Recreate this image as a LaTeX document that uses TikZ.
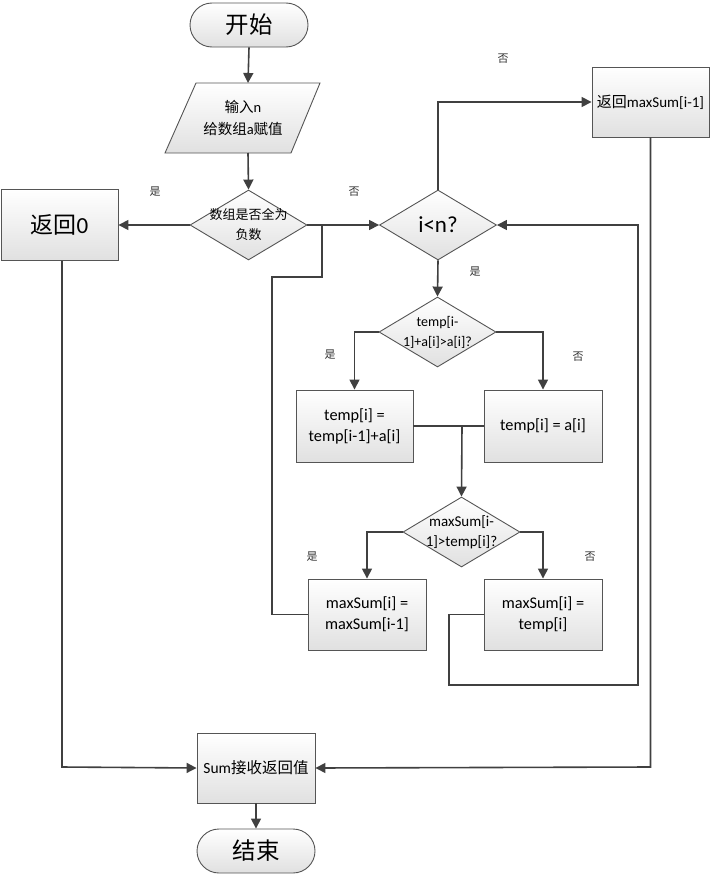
\documentclass[tikz,border=0pt]{standalone}
\usepackage{fontspec}
\setmainfont{Carlito}
\newfontfamily\cjk{Noto Sans CJK SC}
\usetikzlibrary{arrows.meta,shapes.geometric,shapes.misc}
\definecolor{ln}{HTML}{404040}
\definecolor{bd}{HTML}{555555}
\tikzset{
  shapebase/.style={draw=bd, line width=0.9pt, top color=white, bottom color=black!12, inner sep=0pt, align=center},
  procbox/.style={shapebase, rectangle, minimum width=118pt, minimum height=71pt},
  term/.style={shapebase, rounded rectangle, minimum width=118pt, minimum height=44pt},
  decide/.style={shapebase, diamond, minimum width=117pt, minimum height=70pt},
  txt/.style={inner sep=0pt, align=center},
  lbl/.style={inner sep=0pt, text=black!80, font=\cjk\fontsize{11}{12}\selectfont},
  conn/.style={draw=ln, line width=1.6pt},
  arr/.style={conn, -{Triangle[length=10pt,width=10pt]}}
}
\begin{document}
\begin{tikzpicture}[x=1pt,y=-1pt]
\useasboundingbox (0,0) rectangle (712,878);

% start
\node[term, font=\cjk\fontsize{23.5}{26}\selectfont] (start) at (249,25) {开始};

% input parallelogram
\draw[shapebase] (196,83) -- (320,83) -- (291,153) -- (165,153) -- cycle;
\coordinate (inTop) at (248,83);
\coordinate (inBot) at (248,153);
\node[txt, font=\fontsize{14.5}{21.5}\selectfont] (input) at (243,118) {{\cjk 输入}n\\{\cjk 给数组}a{\cjk 赋值}};

% decisions
\node[decide] (d1) at (248.5,225) {};
\node[txt, font=\cjk\fontsize{13}{20}\selectfont] (d1t) at (248.5,225) {数组是否全为\\负数};

\node[decide] (d2) at (438,225) {};
\node[txt, font=\fontsize{23}{24}\selectfont] (d2t) at (438,225) {i<n?};

\node[decide] (d3) at (437.5,332) {};
\node[txt, font=\fontsize{14}{20}\selectfont] (d3t) at (437.5,332) {temp[i-\\1]+a[i]>a[i]?};

\node[decide] (d4) at (461.5,532) {};
\node[txt, font=\fontsize{15}{20}\selectfont] (d4t) at (461.5,532) {maxSum[i-\\1]>temp[i]?};

% process boxes
\node[procbox, minimum width=117pt, font=\fontsize{23}{24}\selectfont] (ret0) at (59.5,225) {{\cjk 返回}0};
\node[procbox, minimum width=117pt, minimum height=70pt, font=\fontsize{15}{18}\selectfont] (retmax) at (650.5,102) {{\cjk 返回}maxSum[i-1]};
\node[procbox, minimum width=117pt, minimum height=72pt, font=\fontsize{16.3}{21}\selectfont] (b1) at (354.5,426) {temp[i] =\\temp[i-1]+a[i]};
\node[procbox, minimum height=72pt, font=\fontsize{16.3}{21}\selectfont] (b2) at (543,426) {temp[i] = a[i]};
\node[procbox, font=\fontsize{16.3}{21}\selectfont] (b3) at (367,614.5) {maxSum[i] =\\maxSum[i-1]};
\node[procbox, font=\fontsize{16.3}{21}\selectfont] (b4) at (543,614.5) {maxSum[i] =\\temp[i]};
\node[procbox, minimum height=70pt, font=\fontsize{15.5}{18}\selectfont] (sum) at (256,768) {Sum{\cjk 接收返回值}};

% end
\node[term, font=\cjk\fontsize{23.5}{26}\selectfont] (stop) at (256,851) {结束};

% helper coordinates
\coordinate (merge) at (462,426);
\coordinate (j1) at (322,225);
\coordinate (l1) at (272,614.5);
\coordinate (l2) at (272,277);
\coordinate (l3) at (322,277);
\coordinate (r1) at (449,614.5);
\coordinate (r2) at (449,685);
\coordinate (r3) at (638,685);
\coordinate (r4) at (638,225);
\coordinate (s1) at (650.5,767);
\coordinate (s2) at (62,767);

% connectors
\draw[arr] (start.south) -- (inTop);
\draw[arr] (inBot) -- (d1.north);
\draw[arr] (d1.west) -- (ret0.east);
\draw[arr] (d1.east) -- (d2.west);
\draw[arr] (d2.north) |- (retmax.west);
\draw[arr] (d2.south) -- (d3.north);
\draw[arr] (d3.west) -| (b1.north);
\draw[arr] (d3.east) -| (b2.north);
\draw[conn] (b1.east) -- (b2.west);
\draw[arr] (merge) -- (d4.north);
\draw[arr] (d4.west) -| (b3.north);
\draw[arr] (d4.east) -| (b4.north);
\draw[conn] (b3.west) -- (l1) -- (l2) -- (l3) -- (j1);
\draw[arr] (b4.west) -- (r1) -- (r2) -- (r3) -- (r4) -- (d2.east);
\draw[arr] (retmax.south) -- (s1) -- (sum.east);
\draw[arr] (ret0.south -| s2) -- (s2) -- (sum.west);
\draw[arr] (sum.south) -- (stop.north);

% labels
\node[lbl] (y1) at (155,192) {是};
\node[lbl] (n1) at (354,192) {否};
\node[lbl] (n2) at (503,59) {否};
\node[lbl] (y2) at (475,272) {是};
\node[lbl] (y3) at (330,355) {是};
\node[lbl] (n3) at (578,357) {否};
\node[lbl] (y4) at (312,557) {是};
\node[lbl] (n4) at (590,557) {否};
\end{tikzpicture}
\end{document}
